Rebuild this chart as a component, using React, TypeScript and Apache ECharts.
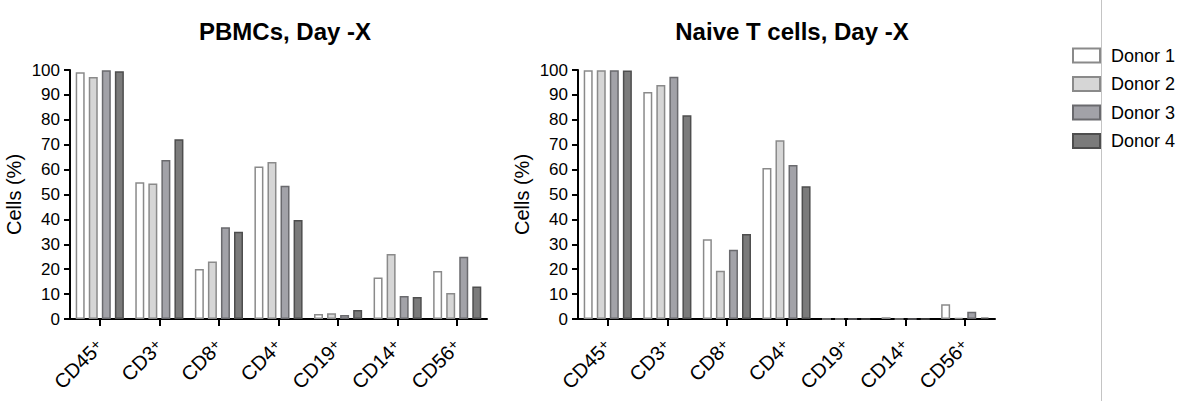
import React, { useEffect, useRef } from "react";
import * as echarts from "echarts";

const categories = ["CD45+", "CD3+", "CD8+", "CD4+", "CD19+", "CD14+", "CD56+"];
const donors = ["Donor 1", "Donor 2", "Donor 3", "Donor 4"];
const yTicks = [0, 10, 20, 30, 40, 50, 60, 70, 80, 90, 100];

// PBMCs, Day -X
const pbmcDonor1 = [99.1, 54.9, 20.1, 61.2, 2.0, 16.7, 19.3];
const pbmcDonor2 = [97.2, 54.4, 23.1, 63.1, 2.3, 26.1, 10.4];
const pbmcDonor3 = [99.9, 63.9, 36.8, 53.5, 1.6, 9.2, 25.0];
const pbmcDonor4 = [99.5, 72.2, 35.0, 39.8, 3.6, 8.8, 13.1];

// Naive T cells, Day -X
const naiveDonor1 = [99.9, 91.2, 32.0, 60.6, 0, 0.7, 5.9];
const naiveDonor2 = [99.9, 94.0, 19.4, 71.8, 0, 0, 0.4];
const naiveDonor3 = [99.9, 97.3, 27.8, 61.8, 0, 0, 2.9];
const naiveDonor4 = [99.8, 81.8, 34.1, 53.3, 0, 0, 0.6];

const fills = ["#ffffff", "#d6d6d6", "#a2a2a8", "#7b7b7b"];
const borders = ["#8a8a8a", "#8a8a8a", "#6a6a6e", "#4e4e4e"];

const FONT = "'Liberation Sans', Arial, sans-serif";

export default function App() {
  const ref = useRef<HTMLDivElement>(null);
  useEffect(() => {
    if (!ref.current) return;
    const chart = echarts.init(ref.current, undefined, { renderer: "svg" });
    const grids = [
      { left: 70, top: 70, width: 417, height: 249 },
      { left: 578, top: 70, width: 417, height: 249 },
    ];
    const mkX = (gi: number) => ({
      type: "category",
      gridIndex: gi,
      data: categories,
      boundaryGap: true,
      axisLine: { show: true, lineStyle: { color: "#000", width: 2 } },
      axisTick: { show: true, alignWithLabel: true, length: 7, lineStyle: { color: "#000", width: 2 } },
      axisLabel: {
        rotate: 45,
        margin: 24,
        interval: 0,
        color: "#000",
        fontFamily: FONT,
        fontSize: 20,
        formatter: (v: string) => `{a|${v.replace("+", "")}}{b|+}`,
        rich: {
          a: { fontSize: 20, fontFamily: FONT, color: "#000" },
          b: { fontSize: 15, fontFamily: FONT, color: "#000", verticalAlign: "top", padding: [0, 0, 5, 0] },
        },
      },
      splitLine: { show: false },
    });
    const mkY = (gi: number) => ({
      type: "value",
      gridIndex: gi,
      min: yTicks[0],
      max: yTicks[yTicks.length - 1],
      interval: 10,
      name: "Cells (%)",
      nameLocation: "middle",
      nameGap: 46,
      nameTextStyle: { fontSize: 20, fontFamily: FONT, color: "#000" },
      axisLine: { show: true, lineStyle: { color: "#000", width: 2 } },
      axisTick: { show: true, length: 6, lineStyle: { color: "#000", width: 2 } },
      axisLabel: { color: "#000", fontFamily: FONT, fontSize: 17, margin: 10 },
      splitLine: { show: false },
    });
    const leftData = [pbmcDonor1, pbmcDonor2, pbmcDonor3, pbmcDonor4];
    const rightData = [naiveDonor1, naiveDonor2, naiveDonor3, naiveDonor4];
    const series: any[] = [];
    [leftData, rightData].forEach((set, gi) => {
      set.forEach((vals, di) => {
        series.push({
          type: "bar",
          name: donors[di],
          xAxisIndex: gi,
          yAxisIndex: gi,
          data: vals,
          barWidth: 9,
          barGap: "45%",
          itemStyle: { color: fills[di], borderColor: borders[di], borderWidth: 1.5 },
        });
      });
    });
    chart.setOption({
      animation: false,
      title: [
        {
          text: "PBMCs, Day -X",
          left: 280,
          top: 14,
          textAlign: "center",
          textStyle: { fontSize: 24, fontWeight: "bold", fontFamily: FONT, color: "#000" },
        },
        {
          text: "Naive T cells, Day -X",
          left: 787,
          top: 14,
          textAlign: "center",
          textStyle: { fontSize: 24, fontWeight: "bold", fontFamily: FONT, color: "#000" },
        },
      ],
      legend: {
        orient: "vertical",
        left: 1067,
        top: 41.5,
        itemWidth: 27,
        itemHeight: 14,
        itemGap: 10.5,
        icon: "rect",
        data: donors,
        textStyle: { fontSize: 18, fontFamily: FONT, color: "#000", padding: [0, 0, 0, 6] },
      },
      grid: grids,
      xAxis: [mkX(0), mkX(1)],
      yAxis: [mkY(0), mkY(1)],
      series,
      graphic: [
        {
          type: "line",
          shape: { x1: 1101.5, y1: 0, x2: 1101.5, y2: 401 },
          style: { stroke: "#c4c4c4", lineWidth: 1 },
          z: 10,
        },
      ],
    });
    return () => chart.dispose();
  }, []);
  return (
    <div
      ref={ref}
      style={{ position: "absolute", left: 0, top: 0, width: 1180, height: 401, background: "#fff" }}
    />
  );
}
